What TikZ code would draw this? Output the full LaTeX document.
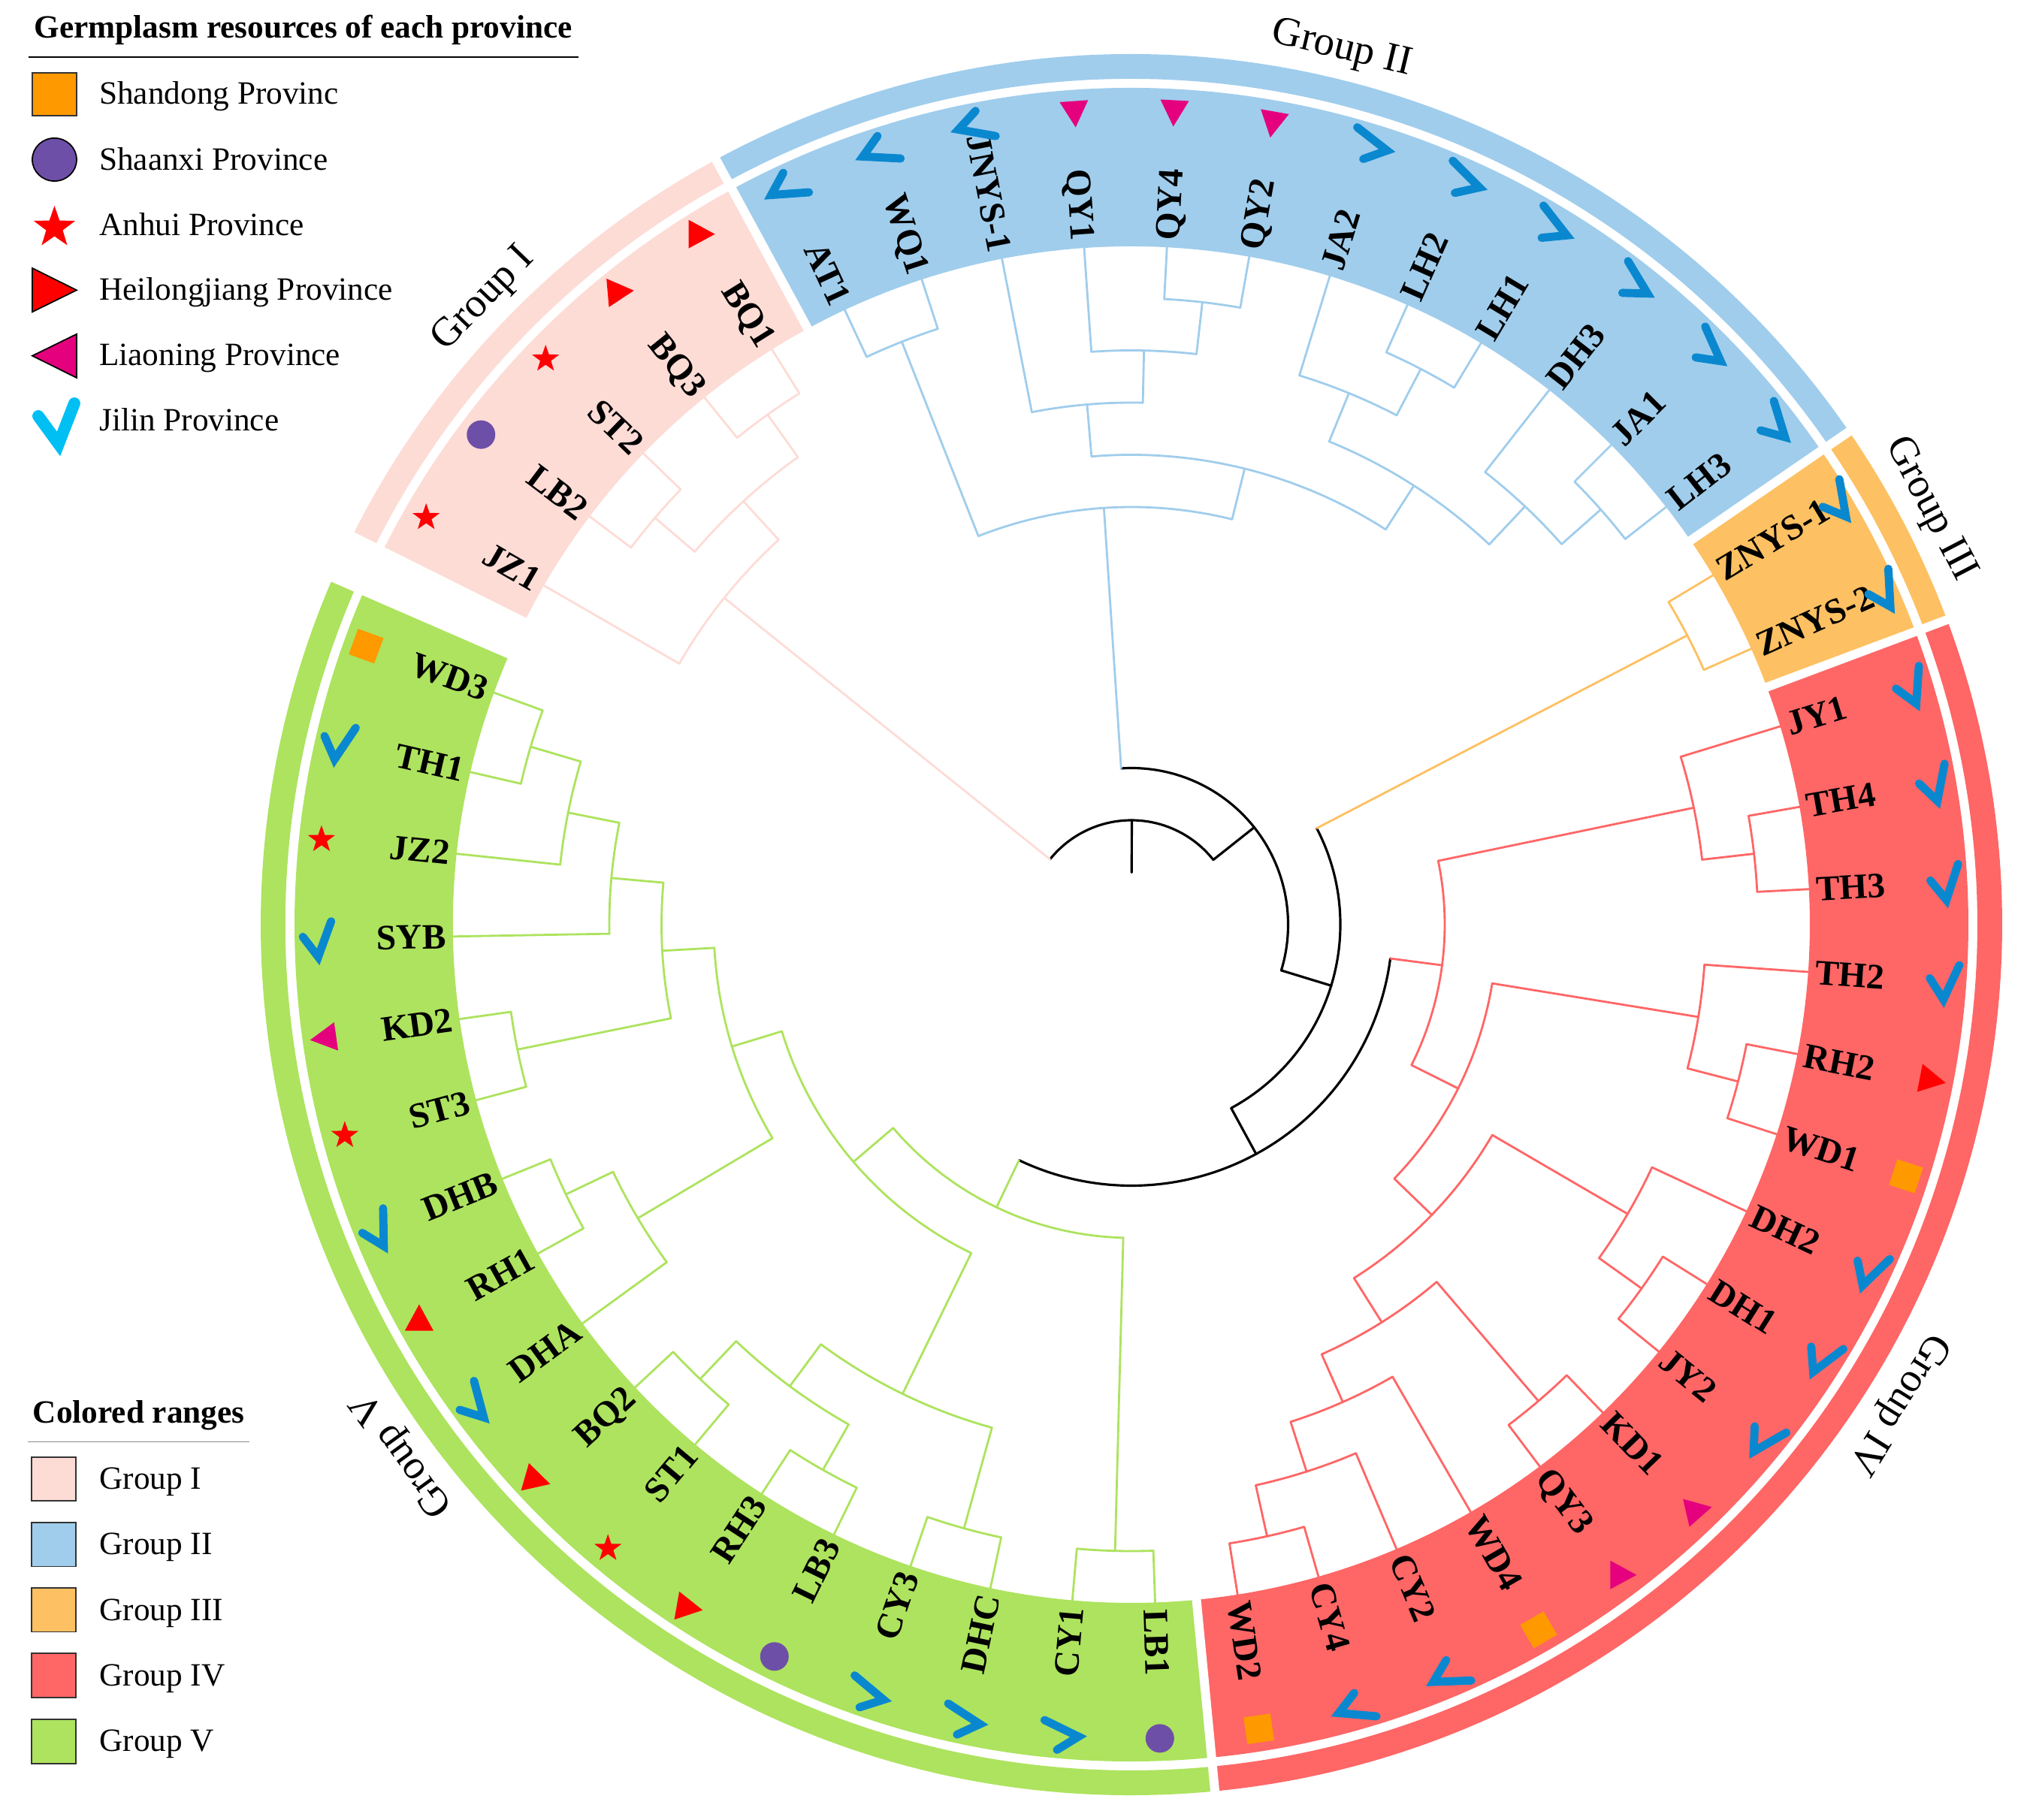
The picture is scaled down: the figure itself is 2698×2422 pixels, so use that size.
\documentclass[tikz,border=0pt]{standalone}
\usepackage{fontspec}
\setmainfont{Liberation Serif}
\usetikzlibrary{shapes.geometric}
\definecolor{gI}{HTML}{FDDCD6}
\definecolor{gII}{HTML}{A0CDEC}
\definecolor{gIII}{HTML}{FDC062}
\definecolor{gIV}{HTML}{FF6666}
\definecolor{gV}{HTML}{ADE35E}
\definecolor{jilin}{HTML}{0A88CF}
\definecolor{jilinL}{HTML}{00BFF3}
\definecolor{liao}{HTML}{E5007D}
\definecolor{shaanxi}{HTML}{6E4FA8}
\definecolor{shandong}{HTML}{FF9900}
\newcommand{\tclade}[6]{\draw[#1] (#2:#3) -- (#2:#4); \draw[#1] (#5:#4) arc[start angle=#5,end angle=#6,radius=#4];}
\newcommand{\tleaf}[3]{\draw[#1] (#2:#3) -- (#2:903);}
\newcommand{\bandsec}[5]{\fill[#5] (#1:#3) arc[start angle=#1,end angle=#2,radius=#3] -- (#2:#4) arc[start angle=#2,end angle=#1,radius=#4] -- cycle;}
\newcommand{\lab}[3]{%
  \pgfmathsetmacro{\labcos}{cos(#2)}%
  \pgfmathsetmacro{\labrot}{#2-180}%
  \ifdim\labcos pt<0pt
    \node[leaflab,anchor=east,rotate=\labrot] (#1) at (#2:912) {#3};%
  \else
    \node[leaflab,anchor=west,rotate=#2] (#1) at (#2:912) {#3};%
  \fi}
\newcommand{\sJ}[3]{\begin{scope}[shift={(#1:#2)},rotate=#3]\draw[chkst] (-19,3)--(1,-24)--(19,23);\end{scope}}
\newcommand{\sH}[3]{\begin{scope}[shift={(#1:#2)},rotate=#3]\fill[red] (-15,19)--(20,0)--(-15,-19)--cycle;\end{scope}}
\newcommand{\sL}[3]{\begin{scope}[shift={(#1:#2)},rotate=#3]\fill[liao] (15,19)--(-20,0)--(15,-19)--cycle;\end{scope}}
\newcommand{\sS}[4]{\node[star,star points=5,star point ratio=2.5,fill=red,inner sep=0pt,minimum size=0.38cm,rotate=#3] (#4) at (#1:#2) {};}
\newcommand{\sC}[3]{\fill[shaanxi] (#1:#2) circle[radius=19];}
\newcommand{\sQ}[3]{\begin{scope}[shift={(#1:#2)},rotate=#3]\fill[shandong] (-18,-18) rectangle (18,18);\end{scope}}
\begin{document}
\begin{tikzpicture}[x=0.01cm,y=0.01cm,
  t0/.style={draw=black,line width=0.9pt,line cap=round},
  t1/.style={draw=gI,line width=0.8pt,line cap=round},
  t2/.style={draw=gII,line width=0.8pt,line cap=round},
  t3/.style={draw=gIII,line width=0.8pt,line cap=round},
  t4/.style={draw=gIV,line width=0.8pt,line cap=round},
  t5/.style={draw=gV,line width=0.8pt,line cap=round},
  leaflab/.style={font=\fontsize{13.5}{16}\selectfont\bfseries,inner sep=0pt,text height=9pt,text depth=0pt},
  grplab/.style={font=\fontsize{15.5}{18}\selectfont,inner sep=0pt},
  leglab/.style={font=\fontsize{12.3}{14}\selectfont,inner sep=0pt,anchor=base west},
  legtitle/.style={font=\fontsize{12.3}{14}\selectfont\bfseries,inner sep=0pt,anchor=base west},
  chkst/.style={draw=jilin,line width=3.1pt,line cap=round,line join=miter}]
\useasboundingbox (-1506,-1191) rectangle (1192,1231);
% ---------- colored ranges ----------
\bandsec{156.5}{275.5}{903}{1114}{gV}
\bandsec{275.5}{380.5}{903}{1114}{gIV}
\bandsec{380.5}{394.5}{903}{1114}{gIII}
\bandsec{394.5}{478.5}{903}{1114}{gII}
\bandsec{478.5}{513.5}{903}{1114}{gI}
\bandsec{156.5}{275.5}{1126}{1159}{gV}
\bandsec{275.5}{380.5}{1126}{1159}{gIV}
\bandsec{380.5}{394.5}{1126}{1159}{gIII}
\bandsec{394.5}{478.5}{1126}{1159}{gII}
\bandsec{478.5}{513.5}{1126}{1159}{gI}
\foreach \b in {156.5,275.5,380.5,394.5,478.5,513.5}
  \draw[white,line width=3.4pt] (\b:900) -- (\b:1165);
% ---------- group labels ----------
\node[grplab,rotate=46,anchor=base] (grpI) at (136:1186) {Group I};
\node[grplab,rotate=-13.5,anchor=base] (grpII) at (76.5:1186) {Group II};
\node[grplab,rotate=-62.5,anchor=base] (grpIII) at (27.5:1186) {Group III};
\node[grplab,rotate=238,anchor=base] (grpIV) at (328:1190) {Group IV};
\node[grplab,rotate=126,anchor=base] (grpV) at (216:1186) {Group V};
% ---------- tree: root (black) ----------
\draw[t0] (449.8:69.5) -- (449.8:139);
\draw[t0] (398.4:139) arc[start angle=398.4,end angle=501.25,radius=139];
\tclade{t0}{398.4}{139}{208.5}{343.01}{453.78}
\tclade{t0}{343.01}{208.5}{278}{298.52}{387.5}
\tclade{t0}{298.52}{278}{347.5}{244.49}{352.55}
% Group I
\tclade{t1}{501.25}{139}{695}{492.5}{510}
\tleaf{t1}{510}{695}
\tclade{t1}{492.5}{695}{764.5}{485.5}{499.5}
\tclade{t1}{485.5}{764.5}{834}{482}{489}
\tleaf{t1}{482}{834}\tleaf{t1}{489}{834}
\tclade{t1}{499.5}{764.5}{834}{496}{503}
\tleaf{t1}{496}{834}\tleaf{t1}{503}{834}
% Group II
\tclade{t2}{453.78}{208.5}{556}{436.06}{471.5}
\tclade{t2}{471.5}{556}{834}{468}{475}
\tleaf{t2}{468}{834}\tleaf{t2}{475}{834}
\tclade{t2}{436.06}{556}{625.5}{417.25}{454.875}
\tclade{t2}{454.875}{625.5}{695}{448.75}{461}
\tleaf{t2}{461}{695}
\tclade{t2}{448.75}{695}{764.5}{443.5}{454}
\tleaf{t2}{454}{764.5}
\tclade{t2}{443.5}{764.5}{834}{440}{447}
\tleaf{t2}{440}{834}\tleaf{t2}{447}{834}
\tclade{t2}{417.25}{625.5}{695}{406.75}{427.75}
\tclade{t2}{427.75}{695}{764.5}{422.5}{433}
\tleaf{t2}{433}{764.5}
\tclade{t2}{422.5}{764.5}{834}{419}{426}
\tleaf{t2}{419}{834}\tleaf{t2}{426}{834}
\tclade{t2}{406.75}{695}{764.5}{401.5}{412}
\tleaf{t2}{412}{764.5}
\tclade{t2}{401.5}{764.5}{834}{398}{405}
\tleaf{t2}{398}{834}\tleaf{t2}{405}{834}
% Group III
\tclade{t3}{387.5}{278}{834}{384}{391}
\tleaf{t3}{384}{834}\tleaf{t3}{391}{834}
% Group IV
\tclade{t4}{352.55}{347.5}{417}{333.36}{371.75}
\tclade{t4}{371.75}{417}{764.5}{366.5}{377}
\tleaf{t4}{377}{764.5}
\tclade{t4}{366.5}{764.5}{834}{363}{370}
\tleaf{t4}{363}{834}\tleaf{t4}{370}{834}
\tclade{t4}{333.36}{417}{486.5}{315.97}{350.75}
\tclade{t4}{350.75}{486.5}{764.5}{345.5}{356}
\tleaf{t4}{356}{764.5}
\tclade{t4}{345.5}{764.5}{834}{342}{349}
\tleaf{t4}{342}{834}\tleaf{t4}{349}{834}
\tclade{t4}{315.97}{486.5}{556}{302.19}{329.75}
\tclade{t4}{329.75}{556}{764.5}{324.5}{335}
\tleaf{t4}{335}{764.5}
\tclade{t4}{324.5}{764.5}{834}{321}{328}
\tleaf{t4}{321}{834}\tleaf{t4}{328}{834}
\tclade{t4}{302.19}{556}{625.5}{293.875}{310.5}
\tclade{t4}{310.5}{625.5}{834}{307}{314}
\tleaf{t4}{307}{834}\tleaf{t4}{314}{834}
\tclade{t4}{293.875}{625.5}{695}{287.75}{300}
\tleaf{t4}{300}{695}
\tclade{t4}{287.75}{695}{764.5}{282.5}{293}
\tleaf{t4}{293}{764.5}
\tclade{t4}{282.5}{764.5}{834}{279}{286}
\tleaf{t4}{279}{834}\tleaf{t4}{286}{834}
% Group V
\tclade{t5}{244.49}{347.5}{417}{220.48}{268.5}
\tclade{t5}{268.5}{417}{834}{265}{272}
\tleaf{t5}{265}{834}\tleaf{t5}{272}{834}
\tclade{t5}{220.48}{417}{486.5}{196.97}{244}
\tclade{t5}{196.97}{486.5}{556}{183.1875}{210.75}
\tclade{t5}{183.1875}{556}{625.5}{174.875}{191.5}
\tclade{t5}{174.875}{625.5}{695}{168.75}{181}
\tleaf{t5}{181}{695}
\tclade{t5}{168.75}{695}{764.5}{163.5}{174}
\tleaf{t5}{174}{764.5}
\tclade{t5}{163.5}{764.5}{834}{160}{167}
\tleaf{t5}{160}{834}\tleaf{t5}{167}{834}
\tclade{t5}{191.5}{625.5}{834}{188}{195}
\tleaf{t5}{188}{834}\tleaf{t5}{195}{834}
\tclade{t5}{210.75}{556}{764.5}{205.5}{216}
\tleaf{t5}{216}{764.5}
\tclade{t5}{205.5}{764.5}{834}{202}{209}
\tleaf{t5}{202}{834}\tleaf{t5}{209}{834}
\tclade{t5}{244}{486.5}{695}{233.5}{254.5}
\tclade{t5}{233.5}{695}{764.5}{226.5}{240.5}
\tclade{t5}{226.5}{764.5}{834}{223}{230}
\tleaf{t5}{223}{834}\tleaf{t5}{230}{834}
\tclade{t5}{240.5}{764.5}{834}{237}{244}
\tleaf{t5}{237}{834}\tleaf{t5}{244}{834}
\tclade{t5}{254.5}{695}{834}{251}{258}
\tleaf{t5}{251}{834}\tleaf{t5}{258}{834}
% ---------- leaf labels ----------
\lab{lWDc}{160}{WD3}\lab{lTHa}{167}{TH1}\lab{lJZb}{174}{JZ2}\lab{lSYB}{181}{SYB}
\lab{lKDb}{188}{KD2}\lab{lSTc}{195}{ST3}\lab{lDHB}{202}{DHB}\lab{lRHa}{209}{RH1}
\lab{lDHA}{216}{DHA}\lab{lBQb}{223}{BQ2}\lab{lSTa}{230}{ST1}\lab{lRHc}{237}{RH3}
\lab{lLBc}{244}{LB3}\lab{lCYc}{251}{CY3}\lab{lDHC}{258}{DHC}\lab{lCYa}{265}{CY1}
\lab{lLBa}{272}{LB1}\lab{lWDb}{279}{WD2}\lab{lCYd}{286}{CY4}\lab{lCYb}{293}{CY2}
\lab{lWDd}{300}{WD4}\lab{lQYc}{307}{QY3}\lab{lKDa}{314}{KD1}\lab{lJYb}{321}{JY2}
\lab{lDHa}{328}{DH1}\lab{lDHb}{335}{DH2}\lab{lWDa}{342}{WD1}\lab{lRHb}{349}{RH2}
\lab{lTHb}{356}{TH2}\lab{lTHc}{363}{TH3}\lab{lTHd}{370}{TH4}\lab{lJYa}{377}{JY1}
\lab{lZNb}{384}{ZNYS-2}\lab{lZNa}{391}{ZNYS-1}\lab{lLHc}{398}{LH3}\lab{lJAa}{405}{JA1}
\lab{lDHc}{412}{DH3}\lab{lLHa}{419}{LH1}\lab{lLHb}{426}{LH2}\lab{lJAb}{433}{JA2}
\lab{lQYb}{440}{QY2}\lab{lQYd}{447}{QY4}\lab{lQYa}{454}{QY1}\lab{lJN}{461}{JNYS-1}
\lab{lWQ}{468}{WQ1}\lab{lAT}{475}{AT1}\lab{lBQa}{482}{BQ1}\lab{lBQc}{489}{BQ3}
\lab{lSTb}{496}{ST2}\lab{lLBb}{503}{LB2}\lab{lJZa}{510}{JZ1}
% ---------- province symbols ----------
\sQ{160}{1084}{-20}
\sJ{167}{1084}{-13}
\sS{174}{1084}{0}{sJZb}
\sJ{181}{1084}{1}
\sL{188}{1084}{8}
\sS{195}{1084}{0}{sSTc}
\sJ{202}{1084}{22}
\sH{209}{1084}{90}
\sJ{216}{1084}{36}
\sH{223}{1084}{-16}
\sS{230}{1084}{0}{sSTa}
\sH{237}{1084}{-10}
\sC{244}{1084}{0}
\sJ{251}{1084}{71}
\sJ{258}{1084}{78}
\sJ{265}{1084}{85}
\sC{272}{1084}{0}
\sQ{279}{1084}{-82}
\sJ{286}{1084}{-74}
\sJ{293}{1084}{-67}
\sQ{300}{1084}{-60}
\sL{307}{1084}{180}
\sL{314}{1084}{193}
\sJ{321}{1084}{-39}
\sJ{328}{1084}{-32}
\sJ{335}{1084}{-25}
\sQ{342}{1084}{-18}
\sH{349}{1084}{-11}
\sJ{356}{1084}{-4}
\sJ{363}{1084}{3}
\sJ{370}{1084}{10}
\sJ{377}{1084}{17}
\sJ{384}{1094}{24}
\sJ{391}{1094}{31}
\sJ{398}{1084}{38}
\sJ{405}{1084}{45}
\sJ{412}{1084}{52}
\sJ{419}{1084}{59}
\sJ{426}{1084}{66}
\sJ{433}{1084}{73}
\sL{440}{1084}{80}
\sL{447}{1084}{87}
\sL{454}{1084}{94}
\sJ{461}{1084}{-79}
\sJ{468}{1084}{-72}
\sJ{475}{1084}{-65}
\sH{482}{1084}{0}
\sH{489}{1084}{5}
\sS{496}{1084}{0}{sSTb}
\sC{503}{1084}{0}
\sS{510}{1084}{0}{sJZa}
% ---------- legend: provinces ----------
\node[legtitle] (lt1) at (-1461,1180) {Germplasm resources of each province};
\draw[line width=0.6pt] (-1468,1155) -- (-736,1155);
\filldraw[fill=shandong,draw=black!80,line width=0.5pt] (-1463,1134) rectangle (-1404,1077);
\filldraw[fill=shaanxi,draw=black,line width=0.5pt] (-1433.5,1018.5) ellipse[x radius=29.5,y radius=28.6];
\node[star,star points=5,star point ratio=2.5,fill=red,inner sep=0pt,minimum size=0.58cm] (lgstar) at (-1433.5,928) {};
\filldraw[fill=red,draw=black,line width=0.5pt] (-1463,874) -- (-1404,844.7) -- (-1463,815.7) -- cycle;
\filldraw[fill=liao,draw=black,line width=0.5pt] (-1404,786.2) -- (-1463,757.3) -- (-1404,728) -- cycle;
\draw[draw=jilinL,line width=4.5pt,line cap=round,line join=miter] (-1455,677) -- (-1428,640) -- (-1407,694);
\node[leglab] (p1) at (-1374.4,1092.6) {Shandong Provinc};
\node[leglab] (p2) at (-1374.4,1004.8) {Shaanxi Province};
\node[leglab] (p3) at (-1374.4,917.4) {Anhui Province};
\node[leglab] (p4) at (-1374.4,831.6) {Heilongjiang Province};
\node[leglab] (p5) at (-1374.4,744.6) {Liaoning Province};
\node[leglab] (p6) at (-1374.4,657.6) {Jilin Province};
% ---------- legend: colored ranges ----------
\node[legtitle] (lt2) at (-1462.7,-663.6) {Colored ranges};
\draw[black!45,line width=0.35pt] (-1469.3,-688.5) -- (-1174.3,-688.5);
\filldraw[fill=gI,draw=black!80,line width=0.5pt] (-1463.7,-708.8) rectangle (-1405,-767);
\filldraw[fill=gII,draw=black!80,line width=0.5pt] (-1463.7,-795.7) rectangle (-1405,-854.6);
\filldraw[fill=gIII,draw=black!80,line width=0.5pt] (-1463.7,-882.9) rectangle (-1405,-941.5);
\filldraw[fill=gIV,draw=black!80,line width=0.5pt] (-1463.7,-969.8) rectangle (-1405,-1029);
\filldraw[fill=gV,draw=black!80,line width=0.5pt] (-1463.7,-1057.8) rectangle (-1405,-1117.1);
\node[leglab] (c1) at (-1374.3,-751.6) {Group I};
\node[leglab] (c2) at (-1374.3,-838.9) {Group II};
\node[leglab] (c3) at (-1374.3,-926.2) {Group III};
\node[leglab] (c4) at (-1374.3,-1013.5) {Group IV};
\node[leglab] (c5) at (-1374.3,-1100.8) {Group V};
\end{tikzpicture}
\end{document}
